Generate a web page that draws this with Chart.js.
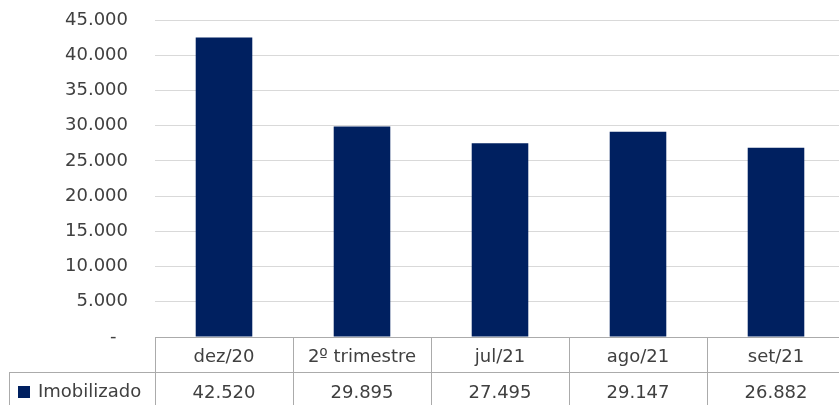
<!DOCTYPE html>
<html>
<head>
<meta charset="utf-8">
<script src="https://cdn.jsdelivr.net/npm/chart.js@4/dist/chart.umd.min.js"></script>
<style>
html,body{margin:0;padding:0;overflow:hidden;background:#fff;width:839px;height:405px;}
#wrap{width:846px;height:405px;}
</style>
</head>
<body>
<div id="wrap"><canvas id="c" width="846" height="405"></canvas></div>
<script>
const categories = ['dez/20', '2º trimestre', 'jul/21', 'ago/21', 'set/21'];
const seriesName = 'Imobilizado';
const imobilizado = [42520, 29895, 27495, 29147, 26882];
const yTicks = [0, 5000, 10000, 15000, 20000, 25000, 30000, 35000, 40000, 45000];

const FONT = '"DejaVu Sans", sans-serif';
const TEXT = '#404040';
const BAR = '#002060';
const LINE = '#ababab';

function fmt(v) {
  if (v === 0) return '-  ';
  return v.toLocaleString('de-DE');
}

const tablePlugin = {
  id: 'dataTable',
  afterDraw(chart) {
    const ctx = chart.ctx;
    const x = chart.scales.x;
    const area = chart.chartArea;
    const n = categories.length;
    const half = (x.getPixelForValue(1) - x.getPixelForValue(0)) / 2;
    const left = Math.round(area.left);
    const right = Math.round(area.right);
    const top = Math.round(area.bottom);
    const mid = top + 35;
    const bottom = top + 80;
    const labelLeft = 9;
    ctx.save();
    ctx.strokeStyle = LINE;
    ctx.lineWidth = 1;
    ctx.beginPath();
    ctx.moveTo(left, top + 0.5); ctx.lineTo(right, top + 0.5);
    ctx.moveTo(labelLeft, mid + 0.5); ctx.lineTo(right, mid + 0.5);
    ctx.moveTo(labelLeft + 0.5, mid); ctx.lineTo(labelLeft + 0.5, bottom);
    for (let i = 0; i <= n; i++) {
      const px = Math.round(i < n ? x.getPixelForValue(i) - half : x.getPixelForValue(n - 1) + half) + 0.5;
      ctx.moveTo(px, top); ctx.lineTo(px, bottom);
    }
    ctx.stroke();

    ctx.fillStyle = TEXT;
    ctx.font = '18px ' + FONT;
    ctx.textAlign = 'center';
    ctx.textBaseline = 'middle';
    for (let i = 0; i < n; i++) {
      const cx = x.getPixelForValue(i);
      ctx.fillText(categories[i], cx, top + 20);
      ctx.fillText(fmt(imobilizado[i]), cx, mid + 21);
    }
    ctx.fillStyle = BAR;
    ctx.fillRect(18, mid + 14, 12, 12);
    ctx.fillStyle = TEXT;
    ctx.textAlign = 'left';
    ctx.fillText(seriesName, 38, mid + 20);
    ctx.restore();
  }
};

new Chart(document.getElementById('c'), {
  type: 'bar',
  data: {
    labels: categories,
    datasets: [{
      label: seriesName,
      data: imobilizado,
      backgroundColor: BAR,
      borderWidth: 0,
      barPercentage: 0.41,
      categoryPercentage: 1.0
    }]
  },
  options: {
    responsive: false,
    devicePixelRatio: 1,
    animation: false,
    layout: { padding: { top: 20, bottom: 68, left: 0, right: 1 } },
    plugins: { legend: { display: false }, tooltip: { enabled: false } },
    scales: {
      x: { display: false, offset: true },
      y: {
        min: 0, max: 45000,
        afterFit(scale) { scale.width = 155; scale.paddingTop = 10; scale.paddingBottom = 10; },
        afterBuildTicks(scale) { scale.ticks = yTicks.map(v => ({ value: v })); },
        grid: { color: '#d9d9d9', lineWidth: 1, drawTicks: false },
        border: { display: false },
        ticks: {
          padding: 27,
          color: TEXT,
          font: { family: FONT, size: 18 },
          callback: (v) => fmt(v)
        }
      }
    }
  },
  plugins: [tablePlugin]
});
</script>
</body>
</html>
